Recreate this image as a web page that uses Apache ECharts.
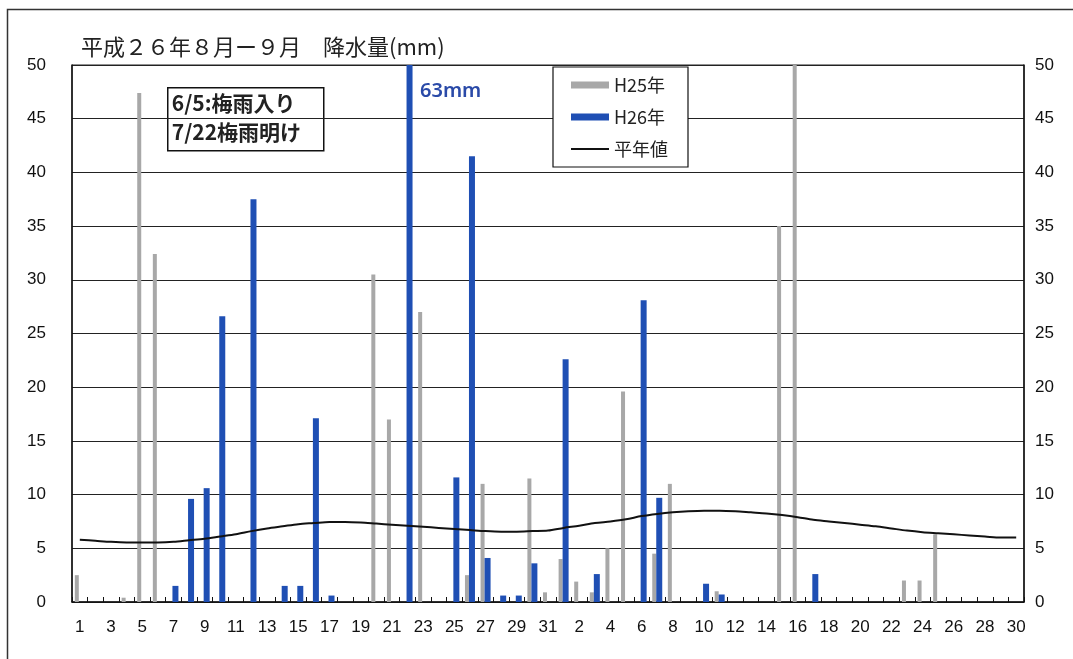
<!DOCTYPE html>
<html><head><meta charset="utf-8">
<script src="https://cdn.jsdelivr.net/npm/echarts@6/dist/echarts.min.js"></script>
<style>html,body{margin:0;padding:0;background:#fff}#c{width:1073px;height:659px}</style>
</head><body><div id="c"></div>
<script>
// categories: Aug 1..31, Sep 1..30
const augDays = Array.from({length:31},(_,i)=>'8/'+(i+1));
const sepDays = Array.from({length:30},(_,i)=>'9/'+(i+1));
const categories = augDays.concat(sepDays);

// H25 (gray) daily precipitation, mm
const h25Aug = [2.5,0,0,0.4,47.4,32.4,0,0,0,0, 0,0,0,0,0,0,0,0,0,30.5, 17.0,0,27.0,0,0,2.5,11.0,0,0,11.5, 0.9];
const h25Sep = [4.0,1.9,0.9,5.0,19.6,0,4.5,11.0,0,0, 1.0,0,0,0,35.0,51,0,0,0,0, 0,0,2.0,2.0,6.3,0,0,0,0,0];
// H26 (blue) daily precipitation, mm
const h26Aug = [0,0,0,0,0,0,1.5,9.6,10.6,26.6, 0,37.5,0,1.5,1.5,17.1,0.6,0,0,0, 0,63,0,0,11.6,41.5,4.1,0.6,0.6,3.6, 0];
const h26Sep = [22.6,0,2.6,0,0,28.1,9.7,0,0,1.7, 0.7,0,0,0,0,0,2.6,0,0,0, 0,0,0,0,0,0,0,0,0,0];
// normal (平年値)
const normAug = [5.8,5.7,5.6,5.55,5.55,5.55,5.6,5.75,5.9,6.1, 6.3,6.6,6.85,7.05,7.25,7.35,7.45,7.45,7.4,7.3, 7.2,7.1,7.0,6.9,6.8,6.7,6.6,6.55,6.55,6.6, 6.65];
const normSep = [6.9,7.1,7.35,7.5,7.7,8.0,8.2,8.35,8.45,8.5, 8.5,8.45,8.35,8.25,8.1,7.9,7.65,7.5,7.35,7.2, 7.05,6.85,6.65,6.5,6.4,6.3,6.2,6.1,6.0,6.0];

const h25 = h25Aug.concat(h25Sep);
const h26 = h26Aug.concat(h26Sep);
const norm = normAug.concat(normSep);

const yTicks = {min:0, max:50, interval:5};
const title = '平成２６年８月ー９月　降水量(mm)';
const note = ['6/5:梅雨入り','7/22梅雨明け'];
const peakLabel = '63mm';

const chart = echarts.init(document.getElementById('c'), null, {renderer:'canvas'});
const numFont = 'Liberation Sans, Arial, sans-serif';
const jpFont = '"Noto Sans CJK JP", sans-serif';
const gridL = 72, gridR = 49, gridT = 65, gridB = 57;

chart.setOption({
  animation:false,
  backgroundColor:'#fff',
  grid:{left:gridL,right:gridR,top:gridT,bottom:gridB,show:true,borderColor:'#222',borderWidth:1,containLabel:false},
  title:{text:title,left:76,top:31,textStyle:{fontFamily:jpFont,fontSize:22,fontWeight:'normal',color:'#222'}},
  legend:{
    orient:'vertical',left:553,top:67,
    data:[{name:'H25年',icon:'rect'},{name:'H26年',icon:'rect'},
          {name:'平年値',icon:'path://M0,0 H38 V2 H0 Z',itemStyle:{color:'#111'}}],
    itemWidth:38,itemHeight:7,itemGap:14,
    padding:[9,20,9,18],
    borderColor:'#111',borderWidth:1.2,backgroundColor:'#fff',
    textStyle:{fontFamily:jpFont,fontSize:18,color:'#222'}
  },
  xAxis:{
    type:'category',data:categories,
    axisLine:{lineStyle:{color:'#111',width:1.5}},
    axisTick:{show:true,inside:true,length:5,interval:0,lineStyle:{color:'#111'}},
    axisLabel:{interval:1,fontFamily:numFont,fontSize:17,color:'#111',margin:17,
      formatter:v=>v.split('/')[1]}
  },
  yAxis:[
    {type:'value',min:yTicks.min,max:yTicks.max,interval:yTicks.interval,position:'left',
     axisLine:{show:true,lineStyle:{color:'#111',width:1.5}},axisTick:{show:false},
     splitLine:{lineStyle:{color:'#222',width:1}},
     axisLabel:{fontFamily:numFont,fontSize:17,color:'#111',margin:26}},
    {type:'value',min:yTicks.min,max:yTicks.max,interval:yTicks.interval,position:'right',
     axisLine:{show:true,lineStyle:{color:'#111',width:1.5}},axisTick:{show:false},
     splitLine:{show:false},
     axisLabel:{fontFamily:numFont,fontSize:17,color:'#111',margin:11}}
  ],
  series:[
    {name:'H25年',type:'bar',data:h25,barWidth:4,barGap:'0%',clip:true,
     itemStyle:{color:'#a8a8a8'}},
    {name:'H26年',type:'bar',data:h26,barWidth:6,barGap:'0%',clip:true,
     itemStyle:{color:'#1f4fb4'}},
    {name:'平年値',type:'line',data:norm,smooth:0.3,symbol:'none',
     lineStyle:{color:'#111',width:2},itemStyle:{color:'#111'},z:5}
  ],
  graphic:[
    {type:'rect',left:5,top:7,shape:{width:1100,height:700},
     style:{fill:'none',stroke:'#333',lineWidth:1.5},silent:true,z:-1},
    {type:'group',left:167,top:87,z:100,children:[
      {type:'rect',shape:{x:0,y:0,width:156,height:63},style:{fill:'#fff',stroke:'#111',lineWidth:1.5}},
      {type:'text',x:4,y:5,style:{text:note[0],font:'bold 21px "Noto Sans CJK JP", sans-serif',fill:'#222'}},
      {type:'text',x:4,y:34,style:{text:note[1],font:'bold 21px "Noto Sans CJK JP", sans-serif',fill:'#222'}}
    ]},
    {type:'text',left:420,top:81,z:100,style:{text:peakLabel,font:'600 20px "Noto Sans", sans-serif',fill:'#2a4aa8'}}
  ]
});
</script></body></html>
